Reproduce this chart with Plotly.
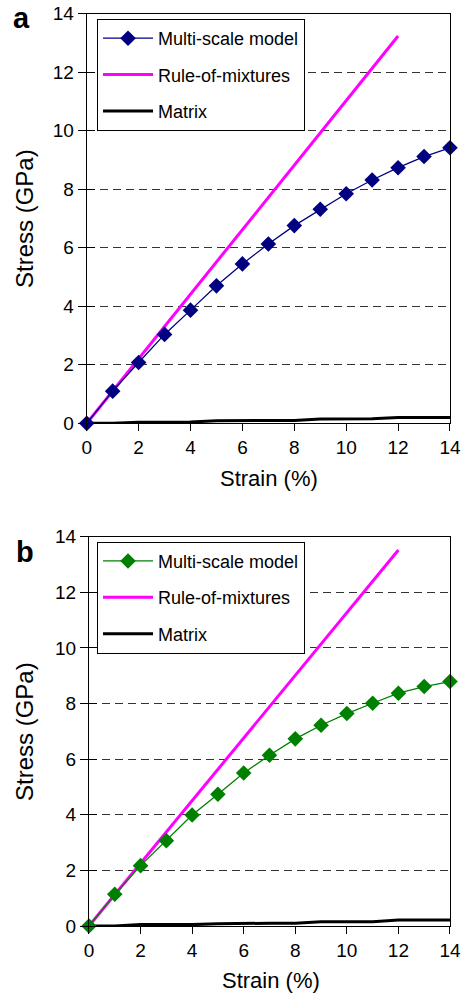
import plotly.graph_objects as go

# ---------------- data ----------------
strain = [0, 1, 2, 3, 4, 5, 6, 7, 8, 9, 10, 11, 12, 13, 14]
rom_strain = [0, 1, 2, 3, 4, 5, 6, 7, 8, 9, 10, 11, 12]

ms_a = [0, 1.10, 2.08, 3.04, 3.87, 4.70, 5.45, 6.13, 6.76, 7.32, 7.85, 8.32, 8.74, 9.12, 9.42]
rom_a = [0, 1.10, 2.21, 3.31, 4.41, 5.52, 6.62, 7.72, 8.83, 9.93, 11.03, 12.14, 13.24]
mat_a = [0, 0, 0.04, 0.04, 0.05, 0.09, 0.10, 0.10, 0.10, 0.15, 0.16, 0.16, 0.20, 0.20, 0.20]

ms_b = [0, 1.14, 2.17, 3.07, 3.99, 4.74, 5.50, 6.14, 6.73, 7.22, 7.64, 8.01, 8.37, 8.61, 8.79]
rom_b = [0, 1.13, 2.25, 3.38, 4.51, 5.63, 6.76, 7.89, 9.01, 10.14, 11.27, 12.39, 13.52]
mat_b = [0, 0, 0.05, 0.05, 0.05, 0.08, 0.10, 0.10, 0.10, 0.15, 0.15, 0.15, 0.22, 0.22, 0.22]

tick_vals = [0, 2, 4, 6, 8, 10, 12, 14]
names = ["Multi-scale model", "Rule-of-mixtures", "Matrix"]
panel_labels = ["a", "b"]
x_title = "Strain (%)"
y_title = "Stress (GPa)"

FONT = "Liberation Sans, Arial, Helvetica, sans-serif"

fig = go.Figure()


def add_panel(xa, ya, legend, ms, rom, mat, ms_color):
    fig.add_trace(go.Scatter(x=strain, y=mat, mode="lines", name=names[2],
                             line=dict(color="black", width=3), xaxis=xa, yaxis=ya,
                             legend=legend, legendrank=3, legendgroup=legend + "m",
                             cliponaxis=False))
    fig.add_trace(go.Scatter(x=rom_strain, y=rom, mode="lines", name=names[1],
                             line=dict(color="#FF00FF", width=3), xaxis=xa, yaxis=ya,
                             legend=legend, legendrank=2, legendgroup=legend + "r",
                             cliponaxis=False))
    fig.add_trace(go.Scatter(x=strain, y=ms, mode="lines+markers", name=names[0],
                             line=dict(color=ms_color, width=1.3),
                             marker=dict(symbol="diamond", size=12, color=ms_color),
                             xaxis=xa, yaxis=ya, legend=legend, legendrank=1,
                             legendgroup=legend + "s", cliponaxis=False))


add_panel("x", "y", "legend", ms_a, rom_a, mat_a, "#000080")
add_panel("x2", "y2", "legend2", ms_b, rom_b, mat_b, "#008000")

xcommon = dict(range=[0, 14], tickvals=tick_vals, ticks="outside", ticklen=7,
               tickwidth=1, tickcolor="black", showline=True, linecolor="black",
               linewidth=1.3, mirror=True, showgrid=False, zeroline=False,
               tickfont=dict(family=FONT, size=19, color="black"), automargin=False,
               ticklabeloverflow="allow", fixedrange=True)
ycommon = dict(range=[0, 14], tickvals=tick_vals, ticks="outside", ticklen=8,
               tickwidth=1, tickcolor="black", showline=True, linecolor="black",
               linewidth=1.3, mirror=True, showgrid=True, gridcolor="#333333",
               gridwidth=1, griddash="8px,5px", zeroline=False,
               tickfont=dict(family=FONT, size=19, color="black"), automargin=False,
               ticklabeloverflow="allow", fixedrange=True)
yinside = dict(range=[0, 14], tickvals=tick_vals, ticks="inside", ticklen=8,
               tickwidth=1, tickcolor="black", showline=False, showgrid=False,
               zeroline=False, showticklabels=False, automargin=False, fixedrange=True)

dom_a_x = [0.1877, 0.9740]
dom_a_y = [0.5741, 0.9861]
dom_b_x = [0.1926, 0.9740]
dom_b_y = [0.0684, 0.4601]

legend_style = dict(font=dict(family=FONT, size=18, color="black"), bgcolor="white",
                    bordercolor="black", borderwidth=1, xanchor="left", yanchor="top",
                    traceorder="grouped", tracegroupgap=10, itemwidth=50,
                    xref="paper", yref="paper")

fig.update_layout(
    width=462, height=994, margin=dict(l=0, r=0, t=0, b=0),
    template="none", paper_bgcolor="white", plot_bgcolor="white",
    showlegend=True,
    xaxis=dict(domain=dom_a_x, anchor="y", **xcommon),
    yaxis=dict(domain=dom_a_y, anchor="x", **ycommon),
    xaxis2=dict(domain=dom_b_x, anchor="y2", **xcommon),
    yaxis2=dict(domain=dom_b_y, anchor="x2", **ycommon),
    yaxis3=dict(overlaying="y", anchor="x", side="left", **yinside),
    yaxis4=dict(overlaying="y2", anchor="x2", side="left", **yinside),
    legend=dict(x=0.21, y=0.9809, **legend_style),
    legend2=dict(x=0.21, y=0.455, **legend_style),
)

# invisible helper traces so the inside-tick overlay axes render
fig.add_trace(go.Scatter(x=[None], y=[None], xaxis="x", yaxis="y3", showlegend=False,
                         hoverinfo="skip"))
fig.add_trace(go.Scatter(x=[None], y=[None], xaxis="x2", yaxis="y4", showlegend=False,
                         hoverinfo="skip"))

ann_font_x = dict(family=FONT, size=22, color="black")
ann_font_y = dict(family=FONT, size=24, color="black")
annotations = [
    dict(text=panel_labels[0], x=0.0455, y=0.9819, xref="paper", yref="paper",
         showarrow=False, xanchor="center", yanchor="middle",
         font=dict(family=FONT, size=29, color="black", weight="bold")),
    dict(text=panel_labels[1], x=0.0541, y=0.4447, xref="paper", yref="paper",
         showarrow=False, xanchor="center", yanchor="middle",
         font=dict(family=FONT, size=29, color="black", weight="bold")),
    dict(text=x_title, x=0.5823, y=0.5186, xref="paper", yref="paper", showarrow=False,
         xanchor="center", yanchor="middle", font=ann_font_x),
    dict(text=x_title, x=0.5866, y=0.0131, xref="paper", yref="paper", showarrow=False,
         xanchor="center", yanchor="middle", font=ann_font_x),
    dict(text=y_title, x=0.0541, y=0.7807, xref="paper", yref="paper", showarrow=False,
         textangle=-90, xanchor="center", yanchor="middle", font=ann_font_y),
    dict(text=y_title, x=0.0541, y=0.2646, xref="paper", yref="paper", showarrow=False,
         textangle=-90, xanchor="center", yanchor="middle", font=ann_font_y),
]
fig.update_layout(annotations=annotations)

fig.write_html("out.html", config={"displayModeBar": False})
